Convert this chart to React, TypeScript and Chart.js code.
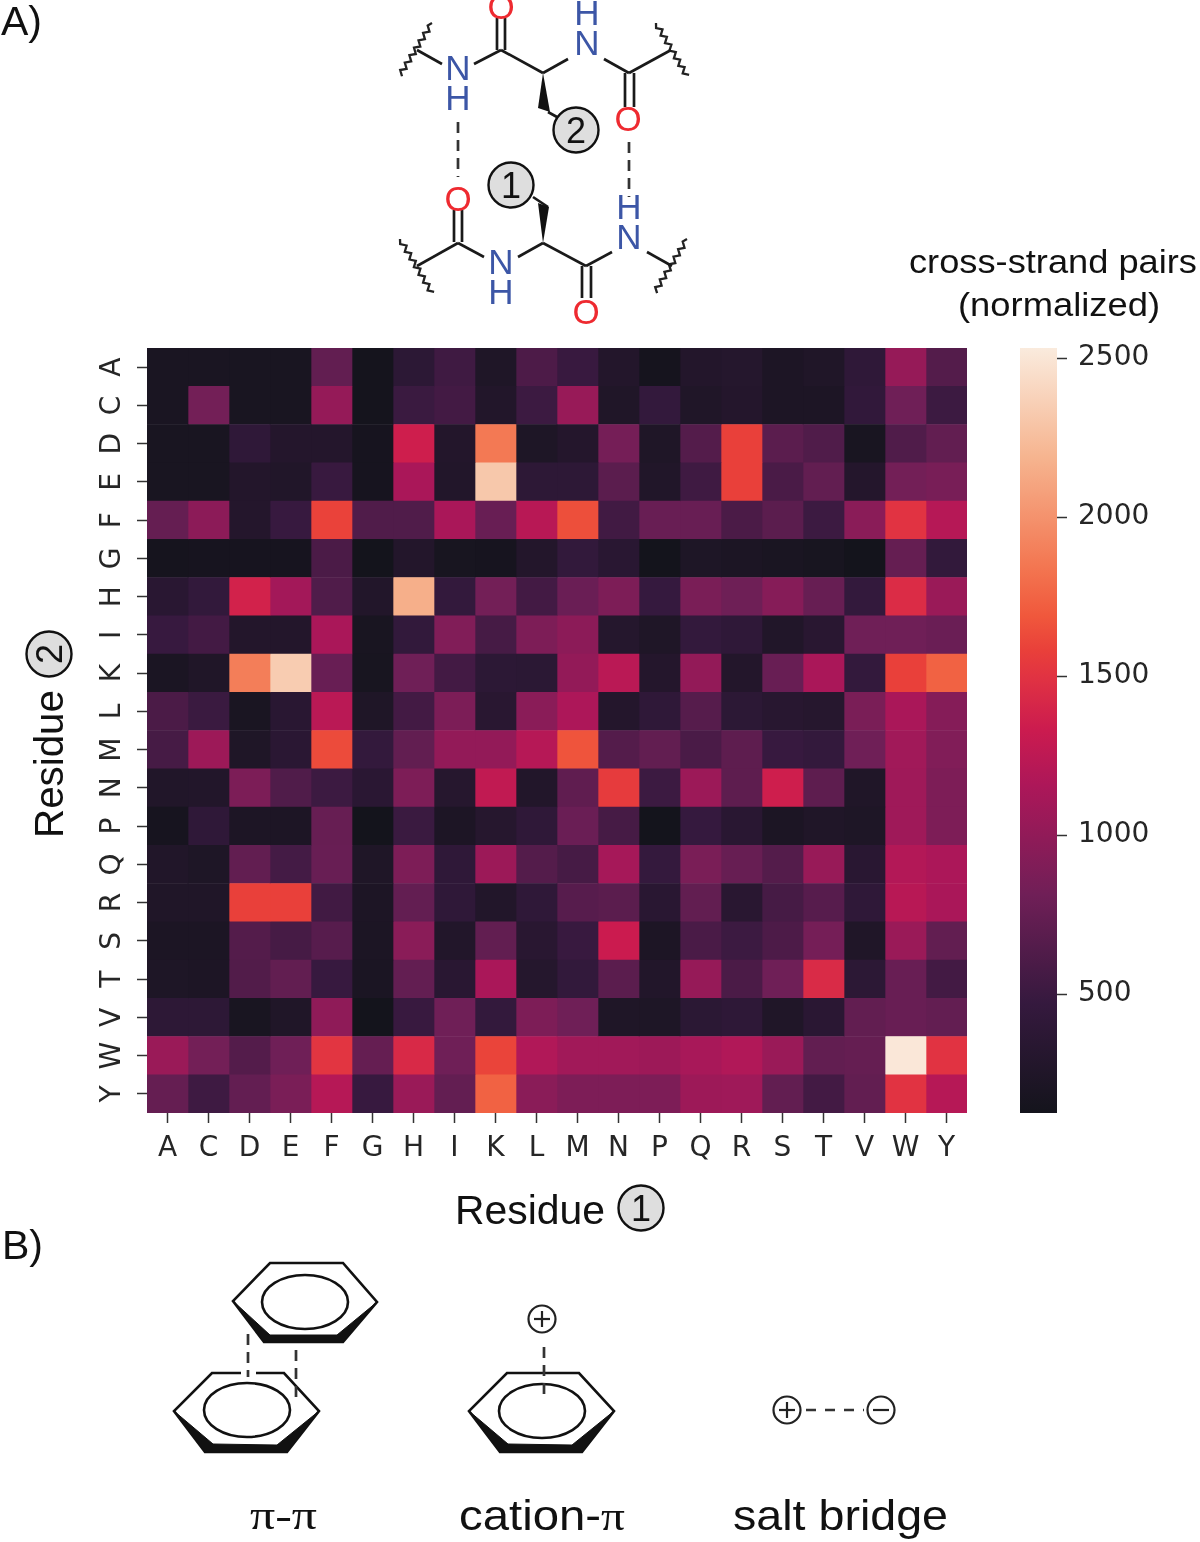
import React, { useEffect, useRef } from "react";
import { Chart, registerables } from "chart.js";

Chart.register(...registerables);

const residues = ["A", "C", "D", "E", "F", "G", "H", "I", "K", "L", "M", "N", "P", "Q", "R", "S", "T", "V", "W", "Y"];
const colorbarTicks = [500, 1000, 1500, 2000, 2500];
const colorMin = 126;
const colorMax = 2532;
const rocketPositions = [0, 0.143, 0.286, 0.429, 0.5, 0.571, 0.605, 0.65, 0.714, 0.857, 1];
const rocketStops = ["#14141c", "#35193e", "#701f57", "#ad1759", "#cb1b4f", "#e13342", "#e9403a", "#f0583c", "#f37651", "#f6b48f", "#faebdd"];

const rowA = [190, 190, 180, 180, 730, 140, 380, 530, 240, 610, 490, 280, 150, 280, 300, 220, 250, 410, 1030, 650];
const rowC = [190, 830, 180, 180, 1020, 140, 500, 550, 270, 510, 1040, 250, 450, 250, 290, 220, 220, 430, 810, 510];
const rowD = [180, 180, 410, 290, 290, 160, 1350, 280, 1860, 230, 290, 840, 240, 650, 1580, 690, 630, 180, 630, 730];
const rowE = [180, 180, 280, 260, 490, 160, 1140, 270, 2310, 390, 390, 690, 260, 530, 1580, 590, 730, 290, 830, 860];
const rowF = [750, 970, 290, 480, 1590, 630, 630, 1140, 770, 1220, 1650, 540, 770, 770, 600, 690, 510, 960, 1500, 1210];
const rowG = [150, 160, 160, 160, 600, 130, 280, 170, 160, 280, 440, 350, 130, 230, 210, 190, 170, 130, 750, 440];
const rowH = [350, 440, 1380, 1100, 630, 270, 2160, 450, 830, 550, 780, 890, 470, 870, 800, 940, 760, 450, 1450, 1050];
const rowI = [480, 550, 280, 280, 1140, 180, 440, 910, 570, 890, 970, 300, 240, 450, 410, 260, 340, 810, 810, 780];
const rowK = [200, 250, 1890, 2340, 770, 170, 810, 550, 380, 370, 1010, 1230, 290, 1010, 280, 770, 1140, 450, 1580, 1740];
const rowL = [600, 500, 190, 350, 1230, 240, 550, 880, 340, 960, 1160, 290, 410, 660, 380, 330, 310, 870, 1140, 930];
const rowM = [570, 1070, 240, 360, 1630, 450, 730, 1010, 1010, 1210, 1670, 650, 730, 590, 710, 480, 450, 810, 1090, 910];
const rowN = [260, 270, 880, 630, 510, 360, 890, 310, 1270, 270, 720, 1550, 510, 1060, 710, 1350, 710, 250, 1080, 890];
const rowP = [160, 410, 220, 220, 760, 130, 500, 220, 310, 410, 780, 570, 130, 470, 350, 210, 250, 230, 1080, 890];
const rowQ = [260, 230, 730, 560, 770, 240, 890, 410, 1060, 650, 570, 1120, 460, 870, 760, 650, 1040, 350, 1190, 1150];
const rowR = [250, 250, 1580, 1580, 540, 220, 740, 410, 270, 410, 670, 690, 350, 730, 340, 570, 670, 410, 1220, 1140];
const rowS = [210, 210, 650, 570, 670, 210, 960, 270, 730, 340, 490, 1330, 220, 590, 510, 610, 840, 250, 1050, 730];
const rowT = [230, 220, 640, 730, 480, 200, 740, 350, 1140, 300, 440, 690, 270, 1030, 600, 810, 1440, 380, 770, 550];
const rowV = [390, 390, 180, 250, 990, 130, 490, 810, 450, 890, 810, 240, 230, 370, 400, 250, 360, 730, 770, 740];
const rowW = [1050, 830, 650, 810, 1510, 750, 1430, 810, 1600, 1180, 1090, 1090, 1070, 1130, 1180, 1050, 730, 750, 2510, 1500];
const rowY = [750, 520, 740, 870, 1210, 480, 1050, 740, 1740, 960, 890, 890, 890, 1070, 1080, 730, 550, 730, 1500, 1210];

const heatRows = [rowA, rowC, rowD, rowE, rowF, rowG, rowH, rowI, rowK, rowL, rowM, rowN, rowP, rowQ, rowR, rowS, rowT, rowV, rowW, rowY];

function hexRgb(h: string) {
  return [parseInt(h.slice(1, 3), 16), parseInt(h.slice(3, 5), 16), parseInt(h.slice(5, 7), 16)];
}

function heatColor(v: number) {
  const t = Math.min(1, Math.max(0, (v - colorMin) / (colorMax - colorMin)));
  let i = 0;
  while (i < rocketPositions.length - 2 && t > rocketPositions[i + 1]) i++;
  const f = (t - rocketPositions[i]) / (rocketPositions[i + 1] - rocketPositions[i]);
  const a = hexRgb(rocketStops[i]);
  const b = hexRgb(rocketStops[i + 1]);
  return `rgb(${a.map((c, k) => Math.round(c + (b[k] - c) * f)).join(",")})`;
}

const INK = "#262626";
const SANS = "'Liberation Sans', Arial, sans-serif";
const TICK_FONT = { family: "'DejaVu Sans'", size: 28 };
const BLUE = "#3c56a6";
const RED = "#ee2a30";

function Wiggle({ x1, y1, x2, y2 }: { x1: number; y1: number; x2: number; y2: number }) {
  const n = 14;
  const dx = x2 - x1;
  const dy = y2 - y1;
  const len = Math.hypot(dx, dy);
  const nx = -dy / len;
  const ny = dx / len;
  let d = `M${x1} ${y1}`;
  for (let i = 1; i <= n; i++) {
    const s = i % 2 ? 2.4 : -2.4;
    d += ` L${(x1 + (dx * i) / n + nx * s).toFixed(1)} ${(y1 + (dy * i) / n + ny * s).toFixed(1)}`;
  }
  return <path d={d} fill="none" stroke="#222" strokeWidth={2.3} />;
}

function Bonds({ lines }: { lines: number[][] }) {
  return (
    <g stroke="#1a1a1a" strokeWidth={2.7} fill="none">
      {lines.map((l, i) => (
        <line key={i} x1={l[0]} y1={l[1]} x2={l[2]} y2={l[3]} />
      ))}
    </g>
  );
}

function Atom({ x, y, t, c }: { x: number; y: number; t: string; c: string }) {
  return (
    <text x={x} y={y + 12} textAnchor="middle" fontFamily={SANS} fontSize={35} fill={c}>
      {t}
    </text>
  );
}

function Badge({ x, y, t, rot }: { x: number; y: number; t: string; rot?: boolean }) {
  return (
    <g transform={rot ? `rotate(-90 ${x} ${y})` : undefined}>
      <circle cx={x} cy={y} r={22.5} fill="#dedede" stroke="#111" strokeWidth={2.4} />
      <text x={x} y={y + 13} textAnchor="middle" fontFamily={SANS} fontSize={36} fill="#111">
        {t}
      </text>
    </g>
  );
}

function Ring({ pts, inner, el }: { pts: number[][]; inner: number[][]; el: number[] }) {
  const outer = pts.map((p) => p.join(",")).join(" ");
  const shade = [pts[5], pts[4], pts[3], pts[2], inner[1], inner[0]].map((p) => p.join(",")).join(" ");
  return (
    <g>
      <polygon points={outer} fill="#fff" stroke="#111" strokeWidth={2.6} />
      <polygon points={shade} fill="#111" stroke="#111" strokeWidth={1} />
      <ellipse cx={el[0]} cy={el[1]} rx={43} ry={27} fill="none" stroke="#111" strokeWidth={2.6} />
    </g>
  );
}

function Charge({ x, y, minus }: { x: number; y: number; minus?: boolean }) {
  return (
    <g stroke="#222" strokeWidth={2.2} fill="#fff">
      <circle cx={x} cy={y} r={13.5} />
      <line x1={x - 8} y1={y} x2={x + 8} y2={y} />
      {!minus && <line x1={x} y1={y - 8} x2={x} y2={y + 8} />}
    </g>
  );
}

function Dash({ x1, y1, x2, y2 }: { x1: number; y1: number; x2: number; y2: number }) {
  return <line x1={x1} y1={y1} x2={x2} y2={y2} stroke="#333" strokeWidth={2.7} strokeDasharray="11 7" />;
}

export default function App() {
  const heatRef = useRef<HTMLCanvasElement>(null);
  const barRef = useRef<HTMLCanvasElement>(null);

  useEffect(() => {
    const heat = new Chart(heatRef.current!, {
      type: "bar",
      data: {
        labels: residues,
        datasets: residues.map((_, c) => ({
          label: residues[c],
          data: residues.map(() => [c, c + 1]) as any,
          backgroundColor: heatRows.map((row) => heatColor(row[c])),
          borderWidth: 0,
          grouped: false,
          barPercentage: 1,
          categoryPercentage: 1,
        })),
      },
      options: {
        indexAxis: "y",
        responsive: false,
        animation: false,
        events: [],
        layout: { padding: { top: 348, right: 233, left: 0, bottom: 0 } },
        plugins: { legend: { display: false }, tooltip: { enabled: false } },
        scales: {
          x: {
            type: "linear",
            min: 0,
            max: residues.length,
            border: { display: false },
            grid: { drawOnChartArea: false, drawTicks: true, tickLength: 10, tickColor: "#333", tickWidth: 1.5 },
            afterBuildTicks: (s: any) => {
              s.ticks = residues.map((_, i) => ({ value: i + 0.5 }));
            },
            afterFit: (s: any) => {
              s.height = 429;
            },
            ticks: {
              autoSkip: false,
              maxRotation: 0,
              minRotation: 0,
              padding: 9,
              color: INK,
              font: TICK_FONT,
              callback: (v: any) => residues[Math.floor(Number(v))],
            },
          },
          y: {
            type: "category",
            labels: residues,
            border: { display: false },
            grid: { drawOnChartArea: false, drawTicks: true, tickLength: 10, tickColor: "#333", tickWidth: 1.5, offset: false },
            afterFit: (s: any) => {
              s.width = 147;
            },
            ticks: {
              autoSkip: false,
              minRotation: 90,
              maxRotation: 90,
              crossAlign: "center",
              padding: 10,
              color: INK,
              font: TICK_FONT,
            },
          },
        },
      },
    } as any);

    const bar = new Chart(barRef.current!, {
      type: "bar",
      data: {
        labels: ["cross-strand pairs"],
        datasets: [
          {
            data: [[colorMin, colorMax]] as any,
            borderWidth: 0,
            barPercentage: 1,
            categoryPercentage: 1,
            backgroundColor: (ctx: any) => {
              const area = ctx.chart.chartArea;
              if (!area) return "#000";
              const g = ctx.chart.ctx.createLinearGradient(0, area.bottom, 0, area.top);
              rocketStops.forEach((c, i) => g.addColorStop(rocketPositions[i], c));
              return g;
            },
          },
        ],
      },
      options: {
        responsive: false,
        animation: false,
        events: [],
        layout: { padding: { top: 8, left: 20, right: 0, bottom: 17 } },
        plugins: { legend: { display: false }, tooltip: { enabled: false } },
        scales: {
          x: { display: false },
          y: {
            position: "right",
            min: colorMin,
            max: colorMax,
            border: { display: false },
            grid: { drawOnChartArea: false, drawTicks: true, tickLength: 10, tickColor: "#333", tickWidth: 1.5 },
            afterBuildTicks: (s: any) => {
              s.ticks = colorbarTicks.map((value) => ({ value }));
            },
            afterFit: (s: any) => {
              s.width = 143;
              s.paddingTop = 0;
              s.paddingBottom = 0;
            },
            ticks: { autoSkip: false, padding: 11, color: INK, font: TICK_FONT, callback: (v: any) => String(v) },
          },
        },
      },
    } as any);

    return () => {
      heat.destroy();
      bar.destroy();
    };
  }, []);

  return (
    <div style={{ position: "absolute", left: 0, top: 0, width: 1200, height: 1542, overflow: "hidden", background: "#fff", filter: "blur(0.6px)" }}>
      <canvas ref={heatRef} width={1200} height={1542} style={{ position: "absolute", left: 0, top: 0 }} />
      <canvas ref={barRef} width={200} height={790} style={{ position: "absolute", left: 1000, top: 340 }} />
      <svg width={1200} height={1542} style={{ position: "absolute", left: 0, top: 0 }}>
        <text x={1} y={35} fontFamily={SANS} fontSize={41} fill="#111">A)</text>
        <text x={2} y={1259} fontFamily={SANS} fontSize={41} fill="#111">B)</text>

        <Wiggle x1={432} y1={23} x2={400} y2={75} />
        <Wiggle x1={656} y1={23} x2={687} y2={76} />
        <Wiggle x1={400} y1={239} x2={432} y2={293} />
        <Wiggle x1={687} y1={239} x2={655} y2={292} />
        <Bonds
          lines={[
            [417, 50, 442, 64], [474, 64, 501, 50], [497, 50, 497, 18], [505, 50, 505, 18], [501, 50, 543, 73],
            [543, 73, 568, 59], [604, 59, 629, 73], [625, 73, 625, 107], [634, 73, 634, 107], [629, 73, 671, 50],
            [548, 112, 557, 117], [454, 210, 454, 242], [462, 210, 462, 242], [458, 243, 417, 266], [458, 243, 484, 257],
            [518, 257, 543, 243], [548, 207, 533, 197], [543, 243, 586, 266], [582, 266, 582, 298], [591, 266, 591, 298],
            [586, 266, 612, 252], [647, 252, 672, 266],
          ]}
        />
        <polygon points="543,73 538,108 550,112" fill="#111" />
        <polygon points="543,243 538,203 549,207" fill="#111" />
        <Dash x1={458} y1={122} x2={458} y2={177} />
        <Dash x1={629} y1={142} x2={629} y2={197} />
        <Atom x={458} y={68} t="N" c={BLUE} />
        <Atom x={458} y={98} t="H" c={BLUE} />
        <Atom x={587} y={43} t="N" c={BLUE} />
        <Atom x={587} y={13} t="H" c={BLUE} />
        <Atom x={501} y={262} t="N" c={BLUE} />
        <Atom x={501} y={292} t="H" c={BLUE} />
        <Atom x={629} y={237} t="N" c={BLUE} />
        <Atom x={629} y={207} t="H" c={BLUE} />
        <Atom x={501} y={7} t="O" c={RED} />
        <Atom x={628} y={119} t="O" c={RED} />
        <Atom x={458} y={199} t="O" c={RED} />
        <Atom x={586} y={312} t="O" c={RED} />
        <Badge x={576} y={130} t="2" />
        <Badge x={511} y={185} t="1" />

        <text x={1053} y={273} textAnchor="middle" fontFamily={SANS} fontSize={34} fill="#111" textLength={288} lengthAdjust="spacingAndGlyphs">cross-strand pairs</text>
        <text x={1059} y={316} textAnchor="middle" fontFamily={SANS} fontSize={34} fill="#111" textLength={202} lengthAdjust="spacingAndGlyphs">(normalized)</text>

        <text x={455} y={1224} fontFamily={SANS} fontSize={41} fill="#111" textLength={150} lengthAdjust="spacingAndGlyphs">Residue</text>
        <Badge x={641} y={1208} t="1" />
        <text transform="translate(63 838) rotate(-90)" fontFamily={SANS} fontSize={41} fill="#111" textLength={148} lengthAdjust="spacingAndGlyphs">Residue</text>
        <Badge x={49} y={654} t="2" rot />

        <Ring pts={[[270, 1263], [343, 1263], [377, 1302], [343, 1342], [264, 1342], [233, 1301]]} inner={[[270, 1335], [337, 1335]]} el={[305, 1302]} />
        <Ring pts={[[212, 1373], [284, 1373], [319, 1411], [287, 1452], [205, 1452], [174, 1411]]} inner={[[213, 1444], [277, 1445]]} el={[247, 1410]} />
        <Ring pts={[[507, 1373], [579, 1373], [614, 1411], [582, 1452], [500, 1452], [469, 1411]]} inner={[[508, 1444], [572, 1445]]} el={[542, 1411]} />
        <line x1={241} y1={1373} x2={256} y2={1373} stroke="#fff" strokeWidth={4} />
        <Dash x1={248} y1={1334} x2={248} y2={1377} />
        <Dash x1={296} y1={1350} x2={296} y2={1403} />
        <Dash x1={544} y1={1347} x2={544} y2={1400} />
        <Charge x={542} y={1319} />
        <Charge x={787} y={1410} />
        <Charge x={881} y={1410} minus />
        <line x1={806} y1={1410} x2={864} y2={1410} stroke="#333" strokeWidth={2.5} strokeDasharray="10 9" />

        <text x={250} y={1529} fontFamily="'Liberation Serif', serif" fontSize={40} fill="#111" textLength={67} lengthAdjust="spacingAndGlyphs">π-π</text>
        <text x={459} y={1530} fontFamily={SANS} fontSize={42} fill="#111" textLength={166} lengthAdjust="spacingAndGlyphs">
          cation-<tspan fontFamily="'Liberation Serif', serif">π</tspan>
        </text>
        <text x={733} y={1530} fontFamily={SANS} fontSize={42} fill="#111" textLength={215} lengthAdjust="spacingAndGlyphs">salt bridge</text>
      </svg>
    </div>
  );
}
